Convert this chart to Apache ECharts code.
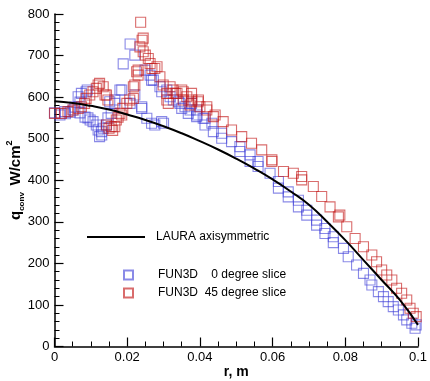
<!DOCTYPE html>
<html><head><meta charset="utf-8">
<script src="https://cdn.jsdelivr.net/npm/echarts@6/dist/echarts.min.js"></script>
<style>html,body{margin:0;padding:0;background:#fff}#c{width:430px;height:381px}</style>
</head><body><div id="c"></div>
<script>
// LAURA axisymmetric line: r (m), q (W/cm^2)
const lauraR = [0,0.005,0.01,0.015,0.02,0.025,0.03,0.035,0.04,0.045,0.05,0.055,0.06,0.065,0.07,0.075,0.08,0.085,0.09,0.095,0.1];
const lauraQ = [590,586,579,570,558,545,530,513,494,474,452,428,402,373,341,300,256,208,160,112,52];

// FUN3D 0 degree slice [r, q]
const fun3d0 = [[0.000,562],[0.0015,557],[0.0028,565],[0.003,560],[0.0043,564],[0.0051,569],[0.0056,576],[0.0065,601],[0.007,588],[0.0074,609],[0.0087,613],[0.009,617],[0.007,562],[0.0084,552],[0.0092,550],[0.0098,545],[0.0106,541],[0.0115,533],[0.012,521],[0.0124,505],[0.0129,517],[0.013,509],[0.0134,525],[0.0143,533],[0.0147,550],[0.0152,589],[0.0156,561],[0.0166,585],[0.0166,593],[0.018,617],[0.0185,617],[0.0189,680],[0.0208,728],[0.0208,585],[0.0221,701],[0.0221,605],[0.024,577],[0.024,573],[0.0249,665],[0.0254,549],[0.0263,653],[0.0267,641],[0.0267,537],[0.0272,641],[0.0276,533],[0.029,625],[0.0295,613],[0.0295,541],[0.030,537],[0.0309,617],[0.0318,601],[0.0327,593],[0.0341,589],[0.0345,585],[0.035,573],[0.0359,577],[0.0368,561],[0.0373,569],[0.0377,585],[0.0391,569],[0.0391,553],[0.0392,557],[0.0409,549],[0.0414,549],[0.0414,533],[0.0433,537],[0.0437,517],[0.046,513],[0.046,501],[0.0487,493],[0.051,481],[0.051,469],[0.0538,461],[0.0538,445],[0.056,445],[0.056,433],[0.0593,417],[0.0616,397],[0.0616,381],[0.0643,372],[0.0643,360],[0.0671,352],[0.0671,336],[0.0694,328],[0.0694,316],[0.0721,304],[0.0721,292],[0.0744,284],[0.0744,272],[0.0767,264],[0.0767,250],[0.0795,236],[0.0808,216],[0.0831,196],[0.085,176],[0.0868,160],[0.0873,148],[0.0891,132],[0.0905,120],[0.0918,108],[0.0932,96],[0.0946,88],[0.096,76],[0.0969,64],[0.0983,56],[0.0992,44],[0.1001,40],[0.0995,52]];

// FUN3D 45 degree slice [r, q]
const fun3d45 = [[0.0,561],[0.0019,561],[0.0037,565],[0.0051,569],[0.0065,573],[0.0074,577],[0.0083,585],[0.0087,597],[0.0097,605],[0.0106,613],[0.0115,621],[0.012,629],[0.0124,633],[0.0134,625],[0.0139,605],[0.0143,605],[0.0147,593],[0.0143,533],[0.015,525],[0.0156,529],[0.016,520],[0.0166,529],[0.017,545],[0.0175,552],[0.018,561],[0.0185,557],[0.0188,573],[0.0199,585],[0.0207,593],[0.0217,597],[0.0217,625],[0.0221,629],[0.0226,661],[0.023,665],[0.023,653],[0.0235,721],[0.0237,780],[0.0241,737],[0.0244,742],[0.0244,709],[0.025,701],[0.0258,693],[0.0263,681],[0.0268,669],[0.0276,669],[0.0282,673],[0.029,649],[0.0299,629],[0.0309,609],[0.0309,593],[0.0313,585],[0.0318,625],[0.0326,617],[0.0332,609],[0.0337,609],[0.035,617],[0.0354,593],[0.0354,613],[0.0364,601],[0.0373,581],[0.0377,589],[0.0378,593],[0.0377,609],[0.0395,589],[0.0396,593],[0.04,577],[0.0419,577],[0.0419,569],[0.0437,553],[0.0442,557],[0.0464,541],[0.0487,521],[0.0515,505],[0.0542,489],[0.057,473],[0.0598,449],[0.0598,445],[0.063,421],[0.0657,417],[0.068,409],[0.068,401],[0.0712,385],[0.0735,361],[0.0758,336],[0.0781,312],[0.0785,316],[0.0804,288],[0.0827,260],[0.085,240],[0.0873,220],[0.0886,204],[0.09,184],[0.0914,172],[0.0928,160],[0.0941,140],[0.0955,128],[0.0969,112],[0.0978,92],[0.0987,80],[0.1001,64],[0.1001,52],[0.0995,72]];

const xTicks = {min: 0, max: 0.1, interval: 0.02};
const yTicks = {min: 0, max: 800, interval: 100};
const names = ['LAURA axisymmetric', 'FUN3D  \u20070 degree slice', 'FUN3D  45 degree slice'];

const FONT = '"Liberation Sans", Arial, sans-serif';
const chart = echarts.init(document.getElementById('c'), null, {renderer: 'canvas'});
const blue = 'rgba(60,60,215,0.75)';
const red = 'rgba(195,25,25,0.8)';
const legendText = {fontFamily: FONT, fontSize: 12, color: '#000'};
chart.setOption({
  animation: false,
  backgroundColor: '#fff',
  grid: {left: 54.5, right: 12, top: 14, bottom: 34.5, containLabel: false, outerBoundsMode: 'none'},
  legend: [
    {data: [{name: names[0], icon: 'rect'}], left: 82, top: 226, orient: 'vertical', itemWidth: 58, itemHeight: 2,
     textStyle: Object.assign({padding: [0,0,0,6]}, legendText)},
    {data: [names[1], names[2]], left: 118, top: 264, orient: 'vertical', itemWidth: 9, itemHeight: 9, itemGap: 6,
     textStyle: Object.assign({padding: [0,0,0,20]}, legendText)}
  ],
  xAxis: {
    type: 'value', min: xTicks.min, max: xTicks.max, interval: xTicks.interval,
    name: 'r, m', nameLocation: 'middle', nameGap: 19, nameMoveOverlap: false,
    nameTextStyle: {fontFamily: FONT, fontSize: 14, fontWeight: 'bold', color: '#000'},
    axisLine: {show: true, lineStyle: {color: '#000', width: 1.5}},
    axisTick: {show: true, inside: true, length: 9, lineStyle: {color: '#000', width: 1.2}},
    minorTick: {show: true, splitNumber: 4, length: 5, lineStyle: {color: '#000', width: 1}},
    axisLabel: {fontFamily: FONT, fontSize: 13, color: '#000', margin: 4,
      formatter: v => (+v.toFixed(3)).toString()},
    splitLine: {show: false}
  },
  yAxis: {
    type: 'value', min: yTicks.min, max: yTicks.max, interval: yTicks.interval,
    name: '{q|q}{s|conv}  {b|W/cm}{p|2}', nameLocation: 'middle', nameGap: 29, nameRotate: 90, nameMoveOverlap: false,
    nameTextStyle: {color: '#000', rich: {
      q: {fontFamily: FONT, fontSize: 15, fontWeight: 'bold', lineHeight: 20, verticalAlign: 'middle'},
      s: {fontFamily: FONT, fontSize: 8, fontWeight: 'bold', lineHeight: 20, verticalAlign: 'bottom'},
      b: {fontFamily: FONT, fontSize: 15, fontWeight: 'bold', lineHeight: 20, verticalAlign: 'middle'},
      p: {fontFamily: FONT, fontSize: 9, fontWeight: 'bold', lineHeight: 20, verticalAlign: 'top'}
    }},
    axisLine: {show: true, lineStyle: {color: '#000', width: 1.5}},
    axisTick: {show: true, inside: true, length: 9, lineStyle: {color: '#000', width: 1.2}},
    minorTick: {show: true, splitNumber: 5, length: 5, lineStyle: {color: '#000', width: 1}},
    axisLabel: {fontFamily: FONT, fontSize: 13, color: '#000', margin: 5},
    splitLine: {show: false}
  },
  series: [
    {name: names[1], type: 'scatter', symbol: 'rect', symbolSize: 10, z: 2,
     data: fun3d0, itemStyle: {color: 'rgba(0,0,0,0)', borderColor: blue, borderWidth: 1.1}},
    {name: names[2], type: 'scatter', symbol: 'rect', symbolSize: 10, z: 3,
     data: fun3d45, itemStyle: {color: 'rgba(0,0,0,0)', borderColor: red, borderWidth: 1.1}},
    {name: names[0], type: 'line', symbol: 'none', smooth: 0.5, z: 5,
     data: lauraR.map((r, i) => [r, lauraQ[i]]), lineStyle: {color: '#000', width: 2}, itemStyle: {color: '#000'}}
  ]
});
</script></body></html>
